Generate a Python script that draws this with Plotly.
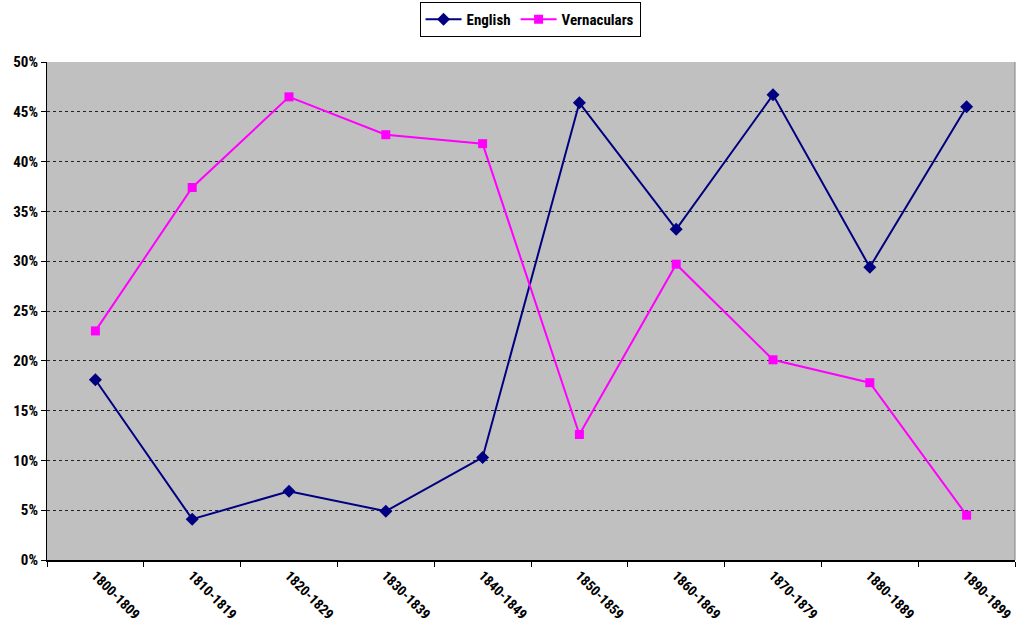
import plotly.graph_objects as go

decades = ["1800-1809", "1810-1819", "1820-1829", "1830-1839", "1840-1849",
           "1850-1859", "1860-1869", "1870-1879", "1880-1889", "1890-1899"]
english = [18.1, 4.1, 6.9, 4.9, 10.3, 45.9, 33.2, 46.7, 29.4, 45.5]
vernaculars = [23.0, 37.4, 46.5, 42.7, 41.8, 12.6, 29.7, 20.1, 17.8, 4.5]

FONT = "Liberation Sans Narrow, Arial Narrow, Roboto Condensed, Arial, sans-serif"

fig = go.Figure()
fig.add_trace(go.Scatter(x=decades, y=english, name="<b>English</b>", mode="lines+markers",
                         line=dict(color="#000080", width=2),
                         marker=dict(symbol="diamond", size=10, color="#000080")))
fig.add_trace(go.Scatter(x=decades, y=vernaculars, name="<b>Vernaculars</b>", mode="lines+markers",
                         line=dict(color="#FF00FF", width=2),
                         marker=dict(symbol="square", size=9, color="#FF00FF")))

fig.update_layout(
    width=1020, height=632,
    margin=dict(l=47, r=5, t=62, b=72, autoexpand=False),
    paper_bgcolor="white", plot_bgcolor="#C0C0C0",
    font=dict(family=FONT, size=14, color="black"),
    showlegend=True,
    legend=dict(orientation="h", x=0.499, xanchor="center", yref="container", y=0.997, yanchor="top",
                bordercolor="black", borderwidth=1, bgcolor="white",
                font=dict(family=FONT, size=15, color="black"),
                itemwidth=36, tracegroupgap=0),
    xaxis=dict(type="category", tickson="boundaries", ticks="outside", ticklen=5,
               tickcolor="black", showline=True, linecolor="black", linewidth=2,
               showgrid=False, tickangle=45, range=[-0.5, 9.5], automargin=False,
               tickfont=dict(family=FONT, size=14, color="black", weight="bold"),
               mirror=False),
    yaxis=dict(range=[0, 50], dtick=5, ticksuffix="%", ticks="outside", ticklen=5,
               tickcolor="black", showline=True, linecolor="black", linewidth=1,
               showgrid=True, gridcolor="#222222", griddash="dot", gridwidth=1,
               zeroline=False, automargin=False,
               tickfont=dict(family=FONT, size=15, color="black", weight="bold")),
)
fig.add_shape(type="line", xref="paper", yref="paper", x0=1, x1=1, y0=0, y1=1,
              line=dict(color="#808080", width=1))

fig.write_html("out.html")
